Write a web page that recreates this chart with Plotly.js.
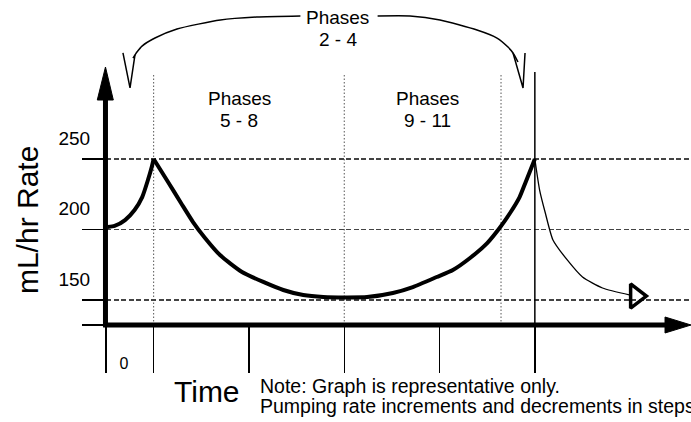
<!DOCTYPE html>
<html>
<head>
<meta charset="utf-8">
<script src="https://cdn.plot.ly/plotly-3.0.1.min.js"></script>
<style>html,body{margin:0;padding:0;background:#fff;}#chart{width:691px;height:422px;}</style>
</head>
<body>
<div id="chart"></div>
<script>
// ---- data ----
const xTickVals = [0, 0.5, 1.5, 2.5, 3.5, 4.5];
const xTickText = ['0', '', '', '', '', ''];
const yTickVals = [132.3, 150, 200, 250];
const yTickText = ['', '150', '200', '250'];

// main infusion-rate curve (mL/hr over time): ramp-up, then the long dip
const rampX = [0.02, 0.09, 0.2, 0.3, 0.38, 0.44, 0.48, 0.5];
const rampY = [201.8, 202.5, 206.7, 213.8, 223.0, 235.1, 244.3, 250];
const dipX = [0.5, 0.651, 0.787, 0.913, 1.039, 1.196, 1.427, 1.65, 1.86, 2.07, 2.28, 2.53, 2.74,
              3.01, 3.22, 3.47, 3.64, 3.82, 4.0, 4.13, 4.24, 4.34, 4.4, 4.5];
const dipY = [250, 233.7, 218.8, 205.3, 194.0, 181.9, 169.9, 162.8, 157.1, 153.5, 152.1, 151.8, 152.1,
              155.0, 159.2, 166.3, 171.3, 179.8, 190.4, 201.1, 211.7, 223.0, 233.0, 250];

// thin return curve after the cycle
const decayX = [4.5, 4.55, 4.61, 4.69, 4.84, 5.0, 5.21, 5.5];
const decayY = [250, 228.0, 211.7, 192.6, 178.4, 166.3, 158.5, 153.5];
const arrowX = [5.56];
const arrowY = [152.8];

// "Phases 2 - 4" bracket
const bracketLeftX  = [2.04, 1.58, 1.2, 0.745, 0.514, 0.378, 0.325, 0.283];
const bracketLeftY  = [351.4, 350.7, 348.6, 342.2, 335.8, 330.1, 325.9, 321.6];
const bracketRightX = [2.85, 3.19, 3.505, 3.893, 4.103, 4.218, 4.271, 4.323];
const bracketRightY = [351.4, 351.4, 348.6, 341.5, 335.8, 329.4, 325.2, 318.8];
const vLeftX  = [0.178, 0.252, 0.304];
const vLeftY  = [325.2, 300.4, 323.8];
const vRightX = [4.271, 4.376, 4.397];
const vRightY = [325.2, 300.4, 325.2];

// phase boundaries
const dividerX = [0.5, 2.5, 4.145];
const dividerTop = 309.6;
const cycleEndX = 4.5;
const cycleEndTop = 311.7;

// phase labels: two lines each
const phaseLine1 = ['Phases', 'Phases', 'Phases'];
const phaseLine2 = ['2 - 4', '5 - 8', '9 - 11'];
const phaseTextX = [2.434, 1.396, 3.37];
const phaseLine1Y = [350.5, 292.6, 292.6];
const phaseLine2Y = [334.9, 277.6, 277.6];

const noteLines = ['Note: Graph is representative only.',
                   'Pumping rate increments and decrements in steps.'];

// ---- layout geometry ----
const FONT = 'Liberation Sans, Arial, sans-serif';
const X_RANGE = [0, 6.1385];
const Y_RANGE = [132.27, 362.77];

function seg(x, y, w, shape) {
  return {x: x, y: y, mode: 'lines', hoverinfo: 'skip',
          line: {color: '#000', width: w, shape: shape || 'linear', smoothing: 0.6}};
}

const traces = [
  seg(rampX, rampY, 4, 'spline'),
  seg(dipX, dipY, 4, 'spline'),
  seg(decayX, decayY, 1.3, 'spline'),
  {x: arrowX, y: arrowY, mode: 'markers', hoverinfo: 'skip',
   marker: {symbol: 'triangle-right-open', size: 21, color: '#000', line: {width: 3.5, color: '#000'}}},
  seg(bracketLeftX, bracketLeftY, 1.5, 'spline'),
  seg(bracketRightX, bracketRightY, 1.5, 'spline'),
  seg(vLeftX, vLeftY, 1.5),
  seg(vRightX, vRightY, 1.5)
];

const shapes = [];
dividerX.forEach(function (dx) {
  shapes.push({type: 'line', xref: 'x', yref: 'y', x0: dx, x1: dx, y0: Y_RANGE[0], y1: dividerTop,
               layer: 'below', line: {color: '#555', width: 1, dash: '1.5px,2px'}});
});
shapes.push({type: 'line', xref: 'x', yref: 'y', x0: cycleEndX, x1: cycleEndX, y0: Y_RANGE[0], y1: cycleEndTop,
             line: {color: '#000', width: 1.5}});
// axis lines with arrow heads (paper coordinates)
shapes.push({type: 'line', xref: 'paper', yref: 'paper', x0: -0.0009, x1: -0.0009, y0: -0.006, y1: 0.70,
             line: {color: '#000', width: 5}});
shapes.push({type: 'path', xref: 'paper', yref: 'paper', path: 'M -0.0149 0.6923 L -0.0009 0.7938 L 0.0125 0.6923 Z',
             fillcolor: '#000', line: {color: '#000', width: 1}});
shapes.push({type: 'line', xref: 'paper', yref: 'paper', x0: -0.005, x1: 0.957, y0: 0, y1: 0,
             line: {color: '#000', width: 5}});
shapes.push({type: 'path', xref: 'paper', yref: 'paper', path: 'M 0.9556 0.0246 L 1.0 0 L 0.9556 -0.0246 Z',
             fillcolor: '#000', line: {color: '#000', width: 1}});

const annotations = [];
function txt(t, x, y, xref, yref, size, extra) {
  const a = {text: t, x: x, y: y, xref: xref, yref: yref, showarrow: false,
             xanchor: 'center', yanchor: 'middle', font: {family: FONT, size: size, color: '#000'}};
  return Object.assign(a, extra || {});
}
phaseLine1.forEach(function (t, i) {
  annotations.push(txt(t, phaseTextX[i], phaseLine1Y[i], 'x', 'y', 19));
  annotations.push(txt(phaseLine2[i], phaseTextX[i], phaseLine2Y[i], 'x', 'y', 19));
});
annotations.push(txt('mL/hr Rate', -0.135, 0.323, 'paper', 'paper', 30, {textangle: -90}));
annotations.push(txt('Time', 0.1718, -0.206, 'paper', 'paper', 30));
annotations.push(txt(noteLines[0], 0.2598, -0.188, 'paper', 'paper', 19.5, {xanchor: 'left', align: 'left'}));
annotations.push(txt(noteLines[1], 0.2598, -0.250, 'paper', 'paper', 19.5, {xanchor: 'left', align: 'left'}));

const layout = {
  width: 691, height: 422,
  margin: {l: 106, r: 0, t: 0, b: 97, pad: 0},
  paper_bgcolor: '#fff', plot_bgcolor: '#fff',
  showlegend: false,
  font: {family: FONT, color: '#000'},
  xaxis: {
    range: X_RANGE, showgrid: false, zeroline: false, showline: false,
    tickmode: 'array', tickvals: xTickVals, ticktext: xTickText,
    ticks: 'outside', ticklen: 47, tickwidth: 1.5, tickcolor: '#000',
    ticklabelshift: 18, ticklabelstandoff: -23,
    tickfont: {family: FONT, size: 16, color: '#000'}, fixedrange: true
  },
  yaxis: {
    range: Y_RANGE, showgrid: true, gridcolor: '#444', gridwidth: 1.3, griddash: '5px,2.5px',
    zeroline: false, showline: false,
    tickmode: 'array', tickvals: yTickVals, ticktext: yTickText,
    ticks: 'outside', ticklen: 23, tickwidth: 1.5, tickcolor: '#000',
    ticklabelshift: -21, ticklabelstandoff: -12,
    tickfont: {family: FONT, size: 19, color: '#000'}, fixedrange: true
  },
  shapes: shapes,
  annotations: annotations,
  hovermode: false
};

Plotly.newPlot('chart', traces, layout, {displayModeBar: false, staticPlot: true});
</script>
</body>
</html>
